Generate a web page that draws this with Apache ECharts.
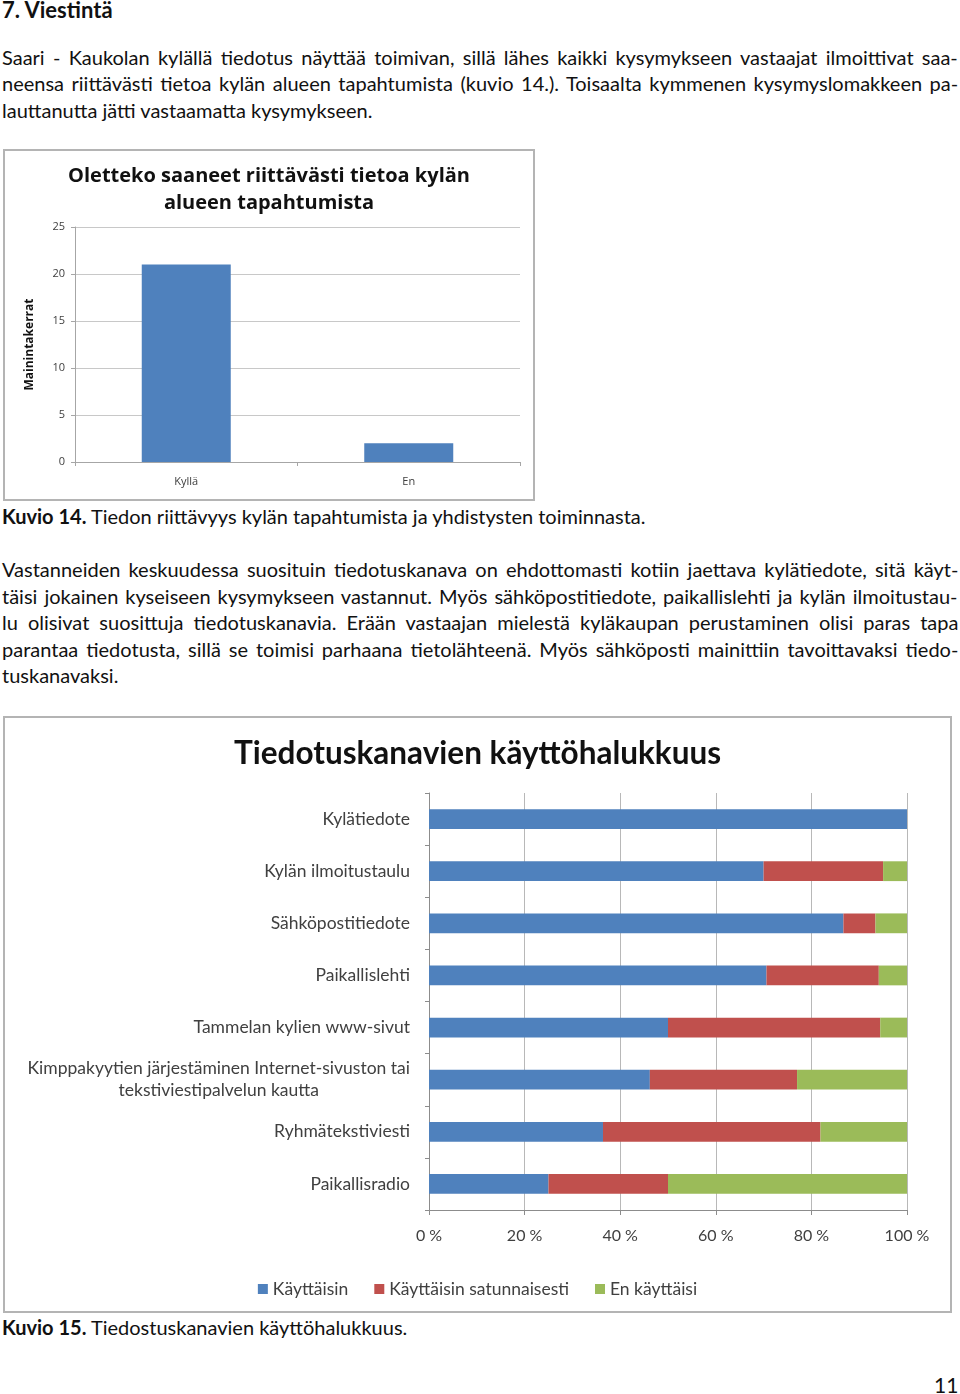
<!DOCTYPE html>
<html>
<head>
<meta charset="utf-8">
<script src="https://cdn.jsdelivr.net/npm/echarts@6/dist/echarts.min.js"></script>
<style>
  html, body { margin: 0; padding: 0; background: #fff; }
  body { width: 960px; height: 1394px; position: relative; font-family: Lato, "Open Sans", sans-serif; color: #111; overflow: hidden; }
  .ln { position: absolute; left: 2px; font-size: 20px; line-height: 26px; height: 26px; white-space: nowrap; }
  .h { position: absolute; left: 2px; font-weight: bold; font-size: 22px; line-height: 24px; }
  .box { position: absolute; box-sizing: border-box; border: 2px solid #b4b4b4; }
  .chart { width: 100%; height: 100%; }
</style>
</head>
<body>
<div class="h" style="top:-2px;">7. Viestintä</div>

<div class="ln j" style="top:44px;">Saari - Kaukolan kylällä tiedotus näyttää toimivan, sillä lähes kaikki kysymykseen vastaajat ilmoittivat saa-</div>
<div class="ln j" style="top:70px;">neensa riittävästi tietoa kylän alueen tapahtumista (kuvio 14.). Toisaalta kymmenen kysymyslomakkeen pa-</div>
<div class="ln" style="top:97px;">lauttanutta jätti vastaamatta kysymykseen.</div>

<div class="box" style="left:3px; top:149px; width:532px; height:352px;"><div id="c1" class="chart"></div></div>

<div class="ln" style="top:503px;"><b>Kuvio 14.</b> Tiedon riittävyys kylän tapahtumista ja yhdistysten toiminnasta.</div>

<div class="ln j" style="top:556px;">Vastanneiden keskuudessa suosituin tiedotuskanava on ehdottomasti kotiin jaettava kylätiedote, sitä käyt-</div>
<div class="ln j" style="top:583px;">täisi jokainen kyseiseen kysymykseen vastannut. Myös sähköpostitiedote, paikallislehti ja kylän ilmoitustau-</div>
<div class="ln j" style="top:609px;">lu olisivat suosittuja tiedotuskanavia. Erään vastaajan mielestä kyläkaupan perustaminen olisi paras tapa</div>
<div class="ln j" style="top:636px;">parantaa tiedotusta, sillä se toimisi parhaana tietolähteenä. Myös sähköposti mainittiin tavoittavaksi tiedo-</div>
<div class="ln" style="top:662px;">tuskanavaksi.</div>

<div class="box" style="left:3px; top:716px; width:949px; height:597px;"><div id="c2" class="chart"></div></div>

<div class="ln" style="top:1314px;"><b>Kuvio 15.</b> Tiedostuskanavien käyttöhalukkuus.</div>

<div class="ln" style="top:1372px; left:934px; font-size:21px;">11</div>

<script>
// ---- Chart 1 data ----
var answerCategories = ['Kyllä', 'En'];
var answerCounts = [21, 2];
var countTicks = [0, 5, 10, 15, 20, 25];

// ---- Chart 2 data ----
var channelCategories = [
  'Kylätiedote',
  'Kylän ilmoitustaulu',
  'Sähköpostitiedote',
  'Paikallislehti',
  'Tammelan kylien www-sivut',
  'Kimppakyytien järjestäminen Internet-sivuston tai\ntekstiviestipalvelun kautta',
  'Ryhmätekstiviesti',
  'Paikallisradio'
];
var seriesNames = ['Käyttäisin', 'Käyttäisin satunnaisesti', 'En käyttäisi'];
var kayttaisin    = [100, 70, 86.7, 70.6, 50, 46.2, 36.4, 25];
var satunnaisesti = [0, 25, 6.7, 23.5, 44.4, 30.8, 45.5, 25];
var enKayttaisi   = [0, 5, 6.6, 5.9, 5.6, 23.0, 18.1, 50];
var percentTicks = [0, 20, 40, 60, 80, 100];

// justify text lines to exact width by adjusting word spacing
(function () {
  var target = 956;
  document.querySelectorAll('.ln.j').forEach(function (el) {
    var w = el.scrollWidth;
    var spaces = (el.textContent.match(/ /g) || []).length;
    if (spaces > 0) el.style.wordSpacing = ((target - w) / spaces) + 'px';
  });
})();

var FONT = 'Lato, "Open Sans", sans-serif';
var FONT1 = '"Open Sans", Lato, sans-serif';
var BLUE = '#4F81BD', RED = '#C0504D', GREEN = '#9BBB59';

var c1 = echarts.init(document.getElementById('c1'), null, {renderer: 'canvas'});
c1.setOption({
  animation: false,
  textStyle: {fontFamily: FONT1},
  title: {
    text: 'Oletteko saaneet riittävästi tietoa kylän\nalueen tapahtumista',
    left: 'center', top: 7,
    textStyle: {fontSize: 20, fontWeight: 'bold', color: '#111', lineHeight: 27, fontFamily: FONT1}
  },
  grid: {left: 70, right: 13, top: 76, bottom: 37},
  xAxis: {
    type: 'category', data: answerCategories,
    axisLine: {lineStyle: {color: '#a6a6a6'}},
    axisTick: {show: true, alignWithLabel: false, length: 4, lineStyle: {color: '#a6a6a6'}},
    axisLabel: {fontSize: 11, color: '#404040', margin: 14, fontFamily: FONT1}
  },
  yAxis: {
    type: 'value', min: countTicks[0], max: countTicks[countTicks.length - 1], interval: 5,
    name: 'Mainintakerrat', nameLocation: 'middle', nameRotate: 90, nameGap: 39,
    nameTextStyle: {fontSize: 12, fontWeight: 'bold', color: '#111', fontFamily: FONT1},
    axisLine: {show: true, lineStyle: {color: '#a6a6a6'}},
    axisTick: {show: true, length: 4, lineStyle: {color: '#a6a6a6'}},
    axisLabel: {fontSize: 11, color: '#404040', margin: 10, fontFamily: FONT1},
    splitLine: {lineStyle: {color: '#c8c8c8'}}
  },
  series: [{
    type: 'bar', data: answerCounts, barWidth: '40%',
    itemStyle: {color: BLUE}
  }]
});

var c2 = echarts.init(document.getElementById('c2'), null, {renderer: 'canvas'});
c2.setOption({
  animation: false,
  textStyle: {fontFamily: FONT},
  title: {
    text: 'Tiedotuskanavien käyttöhalukkuus',
    left: 'center', top: 15,
    textStyle: {fontSize: 31.5, fontWeight: 'bold', color: '#111', fontFamily: FONT}
  },
  legend: {
    data: seriesNames, left: 'center', top: 557,
    icon: 'rect', itemWidth: 10, itemHeight: 10, itemGap: 26,
    textStyle: {fontSize: 17.5, color: '#404040', fontFamily: FONT}
  },
  grid: {left: 424, right: 43, top: 75, bottom: 101},
  xAxis: {
    type: 'value', min: percentTicks[0], max: percentTicks[percentTicks.length - 1], interval: 20,
    axisLine: {show: true, lineStyle: {color: '#8c8c8c'}},
    axisTick: {show: true, length: 5, lineStyle: {color: '#8c8c8c'}},
    axisLabel: {fontSize: 16, color: '#404040', margin: 18, fontFamily: FONT, formatter: '{value} %'},
    splitLine: {lineStyle: {color: '#b8b8b8'}}
  },
  yAxis: {
    type: 'category', data: channelCategories, inverse: true,
    axisLine: {show: true, lineStyle: {color: '#8c8c8c'}},
    axisTick: {show: true, length: 4, lineStyle: {color: '#8c8c8c'}},
    axisLabel: {
      fontSize: 17.5, color: '#404040', margin: 19, fontFamily: FONT, lineHeight: 22,
      formatter: function (v) { return v.split('\n').map(function (s) { return '{c|' + s + '}'; }).join('\n'); },
      rich: {c: {align: 'center', fontSize: 17.5, color: '#404040', fontFamily: FONT, lineHeight: 22}}
    }
  },
  series: [
    {name: seriesNames[0], type: 'bar', stack: 'a', data: kayttaisin, barWidth: '38%', itemStyle: {color: BLUE}},
    {name: seriesNames[1], type: 'bar', stack: 'a', data: satunnaisesti, barWidth: '38%', itemStyle: {color: RED}},
    {name: seriesNames[2], type: 'bar', stack: 'a', data: enKayttaisi, barWidth: '38%', itemStyle: {color: GREEN}}
  ]
});
</script>
</body>
</html>
